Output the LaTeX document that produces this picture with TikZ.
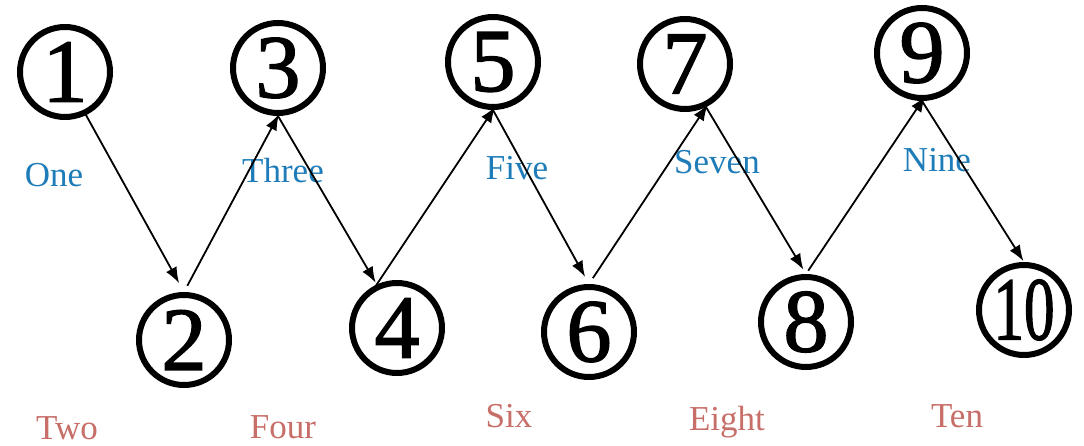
\documentclass[tikz,border=0pt]{standalone}
\usepackage{fontspec}
\setmainfont{Liberation Serif}
\newfontfamily\digitfont[FakeBold=1.6]{Liberation Serif}
\usetikzlibrary{arrows.meta}
\definecolor{labblue}{RGB}{30,125,185}
\definecolor{labred}{RGB}{200,110,105}
\begin{document}
\begin{tikzpicture}[x=1pt,y=-1pt,
  num/.style={circle,draw=black,line width=6pt,minimum size=90pt,inner sep=0pt,
    font=\digitfont\fontsize{90}{90}\selectfont},
  toplab/.style={anchor=base,text=labblue,font=\fontsize{35}{35}\selectfont,inner sep=0pt},
  botlab/.style={anchor=base,text=labred,font=\fontsize{35}{35}\selectfont,inner sep=0pt},
  link/.style={line width=1.8pt,-{Latex[length=16pt,width=12pt]}}]
\useasboundingbox[fill=white] (0,0) rectangle (1084,446);
% circles
\node[num] (n1) at (65,72) {1};
\node[num] (n2) at (184,340) {2};
\node[num] (n3) at (278,68) {3};
\node[num] (n4) at (397,328) {4};
\node[num] (n5) at (493,62) {5};
\node[num] (n6) at (589,332) {6};
\node[num] (n7) at (685,64) {7};
\node[num] (n8) at (806,322) {8};
\node[num] (n9) at (922,53) {9};
\node[num] (n10) at (1024,310) {\scalebox{0.68}[1]{10}};
% labels
\node[toplab] (l1) at (54,187) {One};
\node[toplab] (l3) at (283,183) {Three};
\node[toplab] (l5) at (517,180) {Five};
\node[toplab] (l7) at (717,174) {Seven};
\node[toplab] (l9) at (937,172) {Nine};
\node[botlab] (l2) at (67,439) {Two};
\node[botlab] (l4) at (283,438) {Four};
\node[botlab] (l6) at (509,427) {Six};
\node[botlab] (l8) at (727,430) {Eight};
\node[botlab] (l10) at (957,427) {Ten};
% arrows
\draw[link,shorten <=-5pt,shorten >=10pt] (n1.-64) -- (n2.north);
\draw[link,shorten <=7pt,shorten >=-2pt] (n2.north) -- (n3.south);
\draw[link,shorten <=-2pt,shorten >=2pt] (n3.south) -- (n4.115);
\draw[link,shorten <=-2pt,shorten >=-4pt] (n4.115) -- (n5.south);
\draw[link,shorten <=-4pt,shorten >=8pt] (n5.south) -- (n6.north);
\draw[link,shorten <=7pt,shorten >=-3pt] (n6.north) -- (n7.-64);
\draw[link,shorten <=-3pt,shorten >=5pt] (n7.-64) -- (n8.north);
\draw[link,shorten <=4pt,shorten >=-6pt] (n8.north) -- (n9.south);
\draw[link,shorten <=-6pt,shorten >=1pt] (n9.south) -- (n10.north);
\end{tikzpicture}
\end{document}
